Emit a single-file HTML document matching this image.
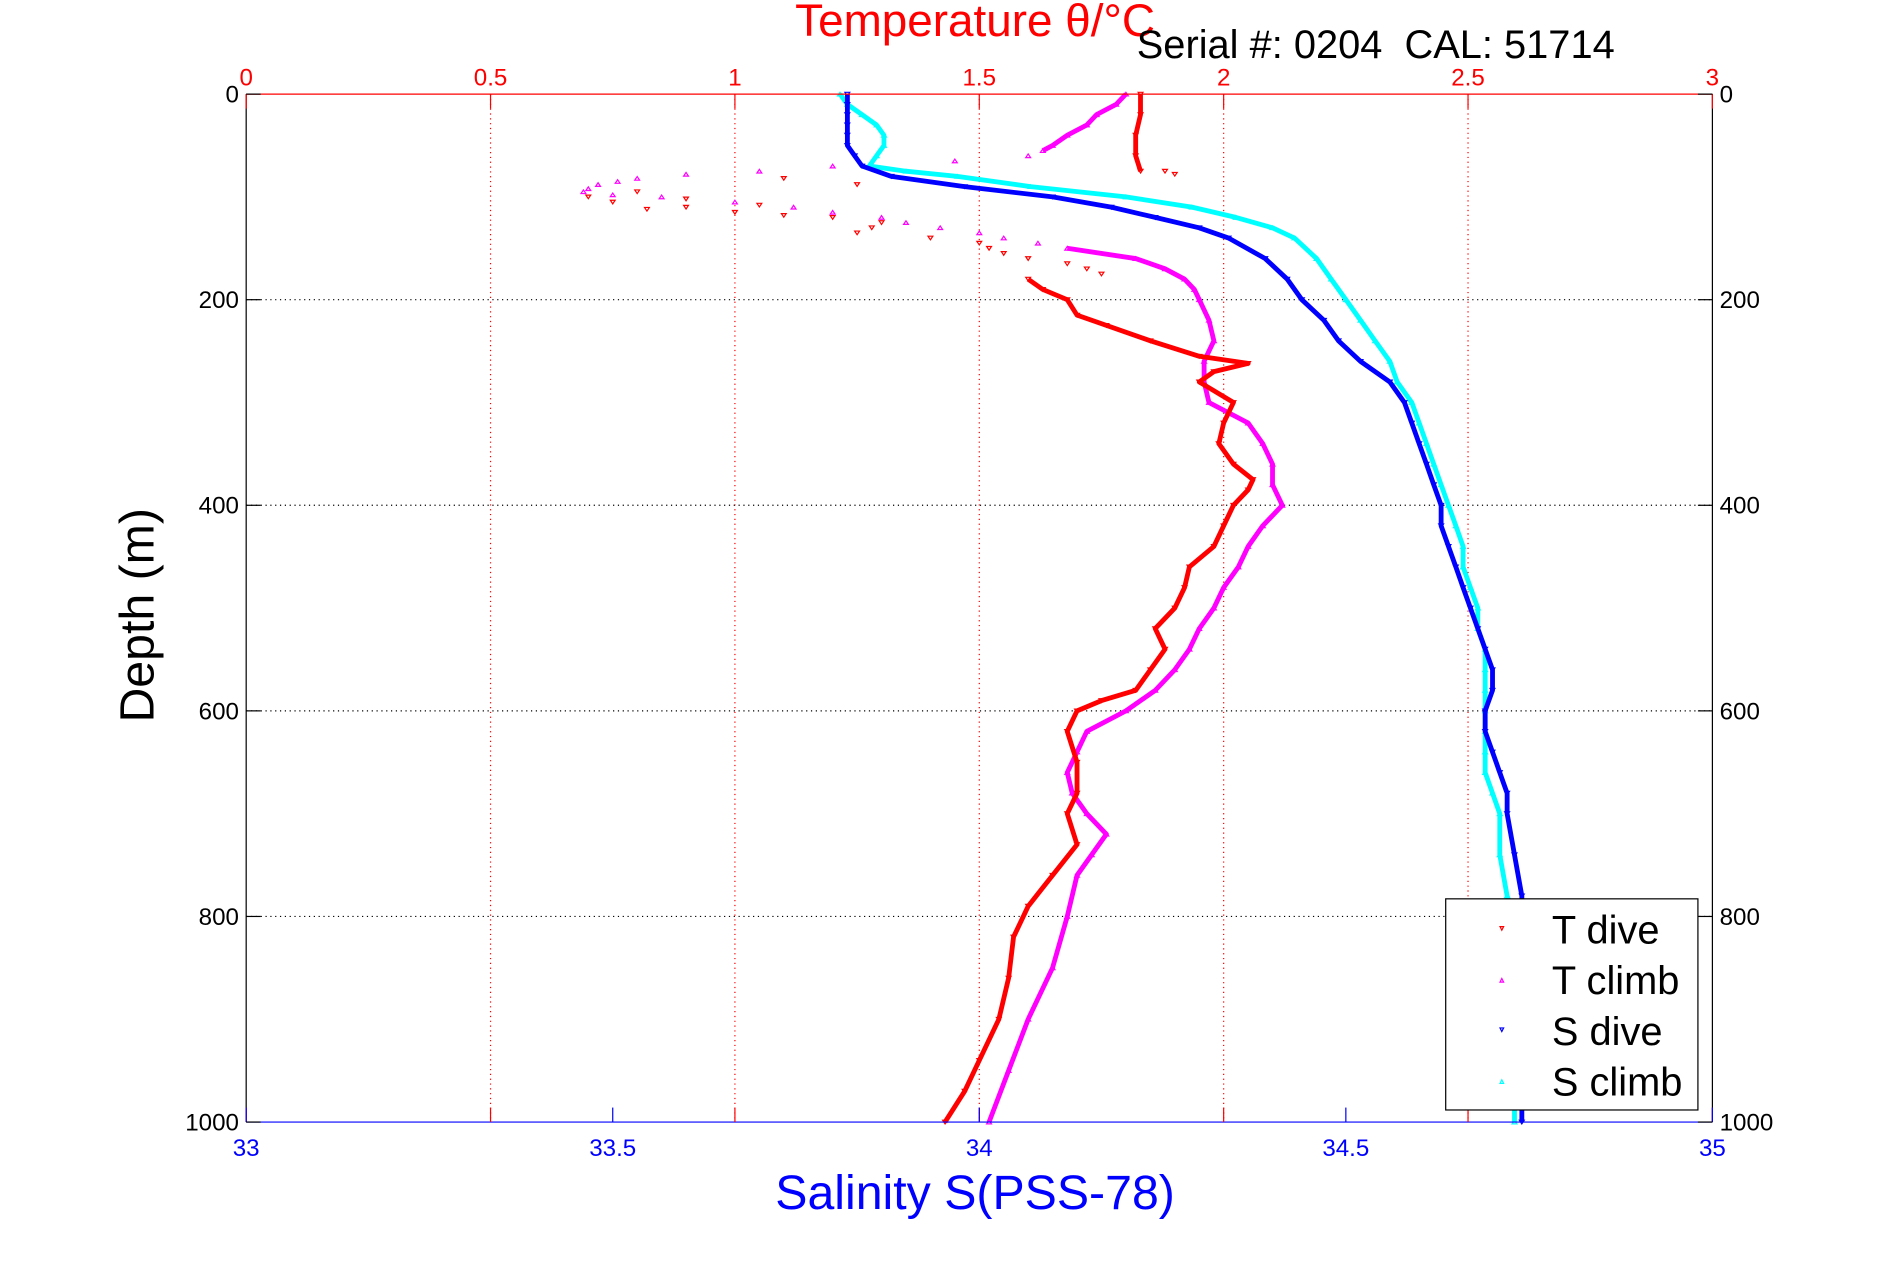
<!DOCTYPE html>
<html><head><meta charset="utf-8"><style>
html,body{margin:0;padding:0;background:#fff;width:1891px;height:1262px;overflow:hidden}
svg{display:block;font-family:"Liberation Sans",sans-serif}
</style></head><body>
<svg id="chart" width="1891" height="1262" viewBox="0 0 1567 1046" preserveAspectRatio="none" xmlns="http://www.w3.org/2000/svg">
<rect width="1567" height="1046" fill="#fff"/>
<g id="grid"></g>
<g id="series"></g>
<g id="axes"></g>
<text x="808" y="30" font-size="38" fill="#f00" text-anchor="middle">Temperature θ/°C</text>
<text x="942" y="48" font-size="33" fill="#000" style="white-space:pre" xml:space="preserve">Serial #: 0204  CAL: 51714</text>
<text transform="translate(127,510) rotate(-90)" font-size="40" fill="#000" text-anchor="middle">Depth (m)</text>
<text x="808" y="1002" font-size="40" fill="#00f" text-anchor="middle">Salinity S(PSS-78)</text>
<g>
<rect x="1198" y="745" width="209" height="175" fill="#fff" stroke="#000" stroke-width="1"/>
<path d="M1243 768 l3 0 l-1.5 3 z" fill="none" stroke="#f00"/><text x="1286" y="782" font-size="33">T dive</text>
<path d="M1243 814 l3 0 l-1.5 -3 z" fill="none" stroke="#f0f"/><text x="1286" y="824" font-size="33">T climb</text>
<path d="M1243 852 l3 0 l-1.5 3 z" fill="none" stroke="#00f"/><text x="1286" y="866" font-size="33">S dive</text>
<path d="M1243 898 l3 0 l-1.5 -3 z" fill="none" stroke="#0ff"/><text x="1286" y="908" font-size="33">S climb</text>
</g>
</svg>
<script>
// ---- data ----
const tempTicks=[0,0.5,1,1.5,2,2.5,3];
const salTicks=[33,33.5,34,34.5,35];
const depthTicks=[0,200,400,600,800,1000];
const tDiveDepth=[0,20,40,60,75,180,190,200,215,225,240,255,262,270,280,300,320,340,360,375,385,400,420,440,460,480,500,520,540,560,580,590,600,620,650,680,700,730,760,790,820,860,900,940,970,1000];
const tDiveTemp=[1.83,1.83,1.82,1.82,1.83,1.6,1.63,1.68,1.7,1.76,1.85,1.95,2.05,1.98,1.95,2.02,2.0,1.99,2.02,2.06,2.05,2.02,2.0,1.98,1.93,1.92,1.9,1.86,1.88,1.85,1.82,1.75,1.7,1.68,1.7,1.7,1.68,1.7,1.65,1.6,1.57,1.56,1.54,1.5,1.47,1.43];
const tDiveScatterDepth=[75,78,82,88,95,100,102,105,108,110,112,115,118,120,125,130,135,140,145,150,155,160,165,170,175];
const tDiveScatterTemp=[1.88,1.9,1.1,1.25,0.8,0.7,0.9,0.75,1.05,0.9,0.82,1.0,1.1,1.2,1.3,1.28,1.25,1.4,1.5,1.52,1.55,1.6,1.68,1.72,1.75];
const tClimbDepth=[0,10,20,30,40,50,55,150,160,170,180,190,200,220,240,260,280,300,320,340,360,380,400,420,440,460,480,500,520,540,560,580,600,620,640,660,680,700,720,740,760,800,850,900,950,1000];
const tClimbTemp=[1.8,1.78,1.74,1.72,1.68,1.65,1.63,1.68,1.82,1.88,1.92,1.94,1.95,1.97,1.98,1.96,1.96,1.97,2.05,2.08,2.1,2.1,2.12,2.08,2.05,2.03,2.0,1.98,1.95,1.93,1.9,1.86,1.8,1.72,1.7,1.68,1.69,1.72,1.76,1.73,1.7,1.68,1.65,1.6,1.56,1.52];
const tClimbScatterDepth=[60,65,70,75,78,82,85,88,92,95,98,100,105,110,115,120,125,130,135,140,145];
const tClimbScatterTemp=[1.6,1.45,1.2,1.05,0.9,0.8,0.76,0.72,0.7,0.69,0.75,0.85,1.0,1.12,1.2,1.3,1.35,1.42,1.5,1.55,1.62];
const sDiveDepth=[0,10,20,30,40,50,60,70,80,90,100,110,120,130,140,160,180,200,220,240,260,280,300,320,340,360,380,400,420,440,460,480,500,520,540,560,580,600,620,640,660,680,700,740,780,800,850,900,950,1000];
const sDiveSal=[33.82,33.82,33.82,33.82,33.82,33.82,33.83,33.84,33.88,33.98,34.1,34.18,34.24,34.3,34.34,34.39,34.42,34.44,34.47,34.49,34.52,34.56,34.58,34.59,34.6,34.61,34.62,34.63,34.63,34.64,34.65,34.66,34.67,34.68,34.69,34.7,34.7,34.69,34.69,34.7,34.71,34.72,34.72,34.73,34.74,34.74,34.74,34.74,34.74,34.74];
const sClimbDepth=[0,10,20,30,40,50,60,70,75,80,90,100,110,120,130,140,160,180,200,220,240,260,280,300,320,340,360,380,400,420,440,460,480,500,520,540,560,580,600,620,640,660,680,700,740,780,800,850,900,950,1000];
const sClimbSal=[33.81,33.82,33.84,33.86,33.87,33.87,33.86,33.85,33.9,33.97,34.07,34.2,34.29,34.35,34.4,34.43,34.46,34.48,34.5,34.52,34.54,34.56,34.57,34.59,34.6,34.61,34.62,34.63,34.64,34.65,34.66,34.66,34.67,34.68,34.68,34.69,34.69,34.69,34.69,34.69,34.69,34.69,34.7,34.71,34.71,34.72,34.73,34.73,34.73,34.73,34.73];
// ---- scales ----
const X0=204,X1=1419,Y0=78,Y1=930;
const xT=t=>X0+(t-0)/(3-0)*(X1-X0);
const xS=s=>X0+(s-33)/(35-33)*(X1-X0);
const yD=d=>Y0+d/1000*(Y1-Y0);
const NS='http://www.w3.org/2000/svg';
function mk(tag,attrs,parent){const e=document.createElementNS(NS,tag);for(const k in attrs)e.setAttribute(k,attrs[k]);parent.appendChild(e);return e;}
const grid=document.getElementById('grid'),axes=document.getElementById('axes'),ser=document.getElementById('series');
tempTicks.forEach(t=>{if(t>0&&t<3){const l=mk('line',{x1:xT(t),x2:xT(t),y1:Y0,y2:Y1,stroke:'#f00','stroke-dasharray':'1,3','stroke-width':1},grid);

}});
depthTicks.forEach(d=>{if(d>0&&d<1000){const l=mk('line',{x1:X0,x2:X1,y1:yD(d),y2:yD(d),stroke:'#000','stroke-dasharray':'1,3','stroke-width':1},grid);

}});
mk('line',{x1:X0,x2:X1,y1:Y0,y2:Y0,stroke:'#f00'},axes);
mk('line',{x1:X0,x2:X1,y1:Y1,y2:Y1,stroke:'#00f'},axes);
mk('line',{x1:X0,x2:X0,y1:Y0,y2:Y1,stroke:'#000'},axes);
mk('line',{x1:X1,x2:X1,y1:Y0,y2:Y1,stroke:'#000'},axes);
tempTicks.forEach(t=>{const x=xT(t);
mk('line',{x1:x,x2:x,y1:Y0,y2:Y0+12,stroke:'#f00'},axes);
mk('line',{x1:x,x2:x,y1:Y1,y2:Y1-12,stroke:'#f00'},axes);
const tx=mk('text',{x:x,y:Y0-7,'font-size':20,fill:'#f00','text-anchor':'middle'},axes);tx.textContent=String(t);

});
salTicks.forEach(s=>{const x=xS(s);
mk('line',{x1:x,x2:x,y1:Y1,y2:Y1-12,stroke:'#00f'},axes);
const tx=mk('text',{x:x,y:Y1+28,'font-size':20,fill:'#00f','text-anchor':'middle'},axes);tx.textContent=String(s);

});
depthTicks.forEach(d=>{const y=yD(d);
mk('line',{x1:X0,x2:X0+12,y1:y,y2:y,stroke:'#000'},axes);
mk('line',{x1:X1,x2:X1-12,y1:y,y2:y,stroke:'#000'},axes);
const a=mk('text',{x:X0-6,y:y+7,'font-size':20,fill:'#000','text-anchor':'end'},axes);a.textContent=String(d);


const b=mk('text',{x:X1+6,y:y+7,'font-size':20,fill:'#000'},axes);b.textContent=String(d);

});
function tri(x,y,down,col){const p=down?`M${x-2} ${y-1.5} h4 l-2 3 z`:`M${x-2} ${y+1.5} h4 l-2 -3 z`;return mk('path',{d:p,fill:'none',stroke:col,'stroke-width':1},ser);}
function drawLine(ds,vs,sx,col,down,name){
let segs=[[]];
ds.forEach((d,i)=>{if(i>0&&d-ds[i-1]>60)segs.push([]);segs[segs.length-1].push(sx(vs[i]).toFixed(1)+','+yD(d).toFixed(1));});
segs.forEach(s=>{const pl=mk('polyline',{points:s.join(' '),fill:'none',stroke:col,'stroke-width':4,'stroke-linejoin':'round'},ser);

});
ds.forEach((d,i)=>{const m=tri(sx(vs[i]),yD(d),down,col);

});}
function drawScatter(ds,vs,sx,col,down,name){ds.forEach((d,i)=>{const m=tri(sx(vs[i]),yD(d),down,col);

});}
drawLine(sClimbDepth,sClimbSal,xS,'#0ff',false,'s-climb-series');
drawLine(sDiveDepth,sDiveSal,xS,'#00f',true,'s-dive-series');
drawLine(tClimbDepth,tClimbTemp,xT,'#f0f',false,'t-climb-series');
drawScatter(tClimbScatterDepth,tClimbScatterTemp,xT,'#f0f',false,'t-climb-scatter-point');
drawLine(tDiveDepth,tDiveTemp,xT,'#f00',true,'t-dive-series');
drawScatter(tDiveScatterDepth,tDiveScatterTemp,xT,'#f00',true,'t-dive-scatter-point');
</script>
</body></html>
